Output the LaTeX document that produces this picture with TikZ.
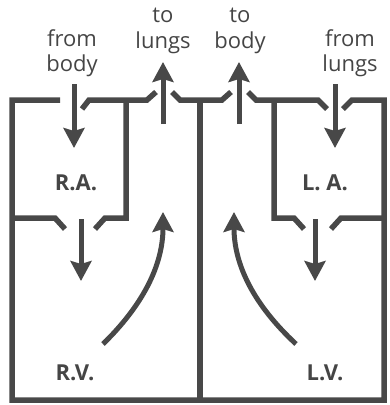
\documentclass[tikz,border=0pt]{standalone}
\usepackage{fontspec}
\setmainfont{Open Sans}
\usetikzlibrary{arrows.meta}
\definecolor{wallc}{HTML}{484848}
\definecolor{textc}{HTML}{454545}
\begin{document}
\begin{tikzpicture}[x=1pt,y=-1pt,
  wall/.style={draw=wallc,line width=5.5pt,line join=miter,line cap=butt},
  flow/.style={draw=wallc,line width=5pt,-{Stealth[length=20pt,width=21pt,inset=3pt]}},
  lbl/.style={text=textc,font=\fontsize{22}{25.5}\selectfont,align=center,inner sep=0pt},
  room/.style={text=textc,font=\bfseries\fontsize{22}{24}\selectfont,inner sep=0pt}]
\useasboundingbox (0,0) rectangle (389,405);
% walls
\draw[wall] (60,100)--(12,100)--(12,400)--(384,400)--(384,100)--(352,100)--(343,109);
\draw[wall] (82,109)--(89,100)--(147,100)--(156,92);
\draw[wall] (126,100)--(126,218)--(105,218)--(95,229);
\draw[wall] (12,218)--(55,218)--(65,229);
\draw[wall] (172,92)--(180,100)--(222,100)--(231,92);
\draw[wall] (200,100)--(200,400);
\draw[wall] (248,92)--(256,100)--(318,100)--(327,109);
\draw[wall] (274,100)--(274,218)--(294,218)--(304,229);
\draw[wall] (331,229)--(341,218)--(384,218);
% arrow coordinates
\coordinate (fb1) at (74,84);  \coordinate (fb2) at (74,148);
\coordinate (ra1) at (81,219); \coordinate (ra2) at (81,281);
\coordinate (tl1) at (163,124); \coordinate (tl2) at (163,62);
\coordinate (tb1) at (239,124); \coordinate (tb2) at (239,62);
\coordinate (fl1) at (335,84); \coordinate (fl2) at (335,148);
\coordinate (la1) at (315,219); \coordinate (la2) at (315,281);
\coordinate (rv1) at (103,344); \coordinate (rv2) at (163,212);
\coordinate (lv1) at (296,344); \coordinate (lv2) at (234,212);
\draw[flow] (fb1)--(fb2);
\draw[flow] (ra1)--(ra2);
\draw[flow] (tl1)--(tl2);
\draw[flow] (tb1)--(tb2);
\draw[flow] (fl1)--(fl2);
\draw[flow] (la1)--(la2);
\draw[flow] (rv1) .. controls (143,305) and (163,265) .. (rv2);
\draw[flow] (lv1) .. controls (254,305) and (234,265) .. (lv2);
% texts
\node[lbl] (tfb) at (72,53) {from\\body};
\node[lbl] (ttl) at (163,31) {to\\lungs};
\node[lbl] (ttb) at (240,31) {to\\body};
\node[lbl] (tfl) at (350,53) {from\\lungs};
\node[room] (ra) at (76,183) {R.A.};
\node[room] (la) at (325,183) {L. A.};
\node[room] (rv) at (75,373) {R.V.};
\node[room] (lv) at (325,373) {L.V.};
\end{tikzpicture}
\end{document}
